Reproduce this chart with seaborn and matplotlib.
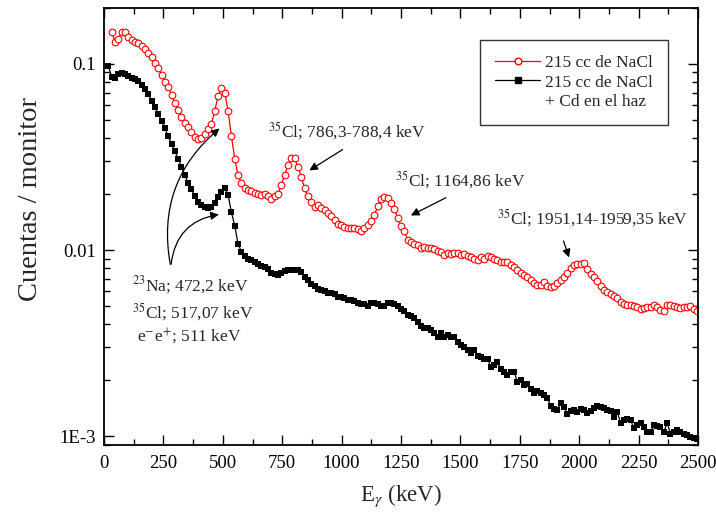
import matplotlib.pyplot as plt
import numpy as np
import seaborn as sns
from matplotlib.lines import Line2D
from matplotlib.ticker import FixedLocator, LogLocator, MultipleLocator, NullFormatter

# Spectrum values (counts / monitor), channels every 14 keV
red_counts = [
    0.149, 0.132, 0.136, 0.149, 0.149, 0.140, 0.135, 0.132, 0.129, 0.125,
    0.120, 0.115, 0.109, 0.1016, 0.0948, 0.0873, 0.0803, 0.0755, 0.0681, 0.0619,
    0.0566, 0.0521, 0.0483, 0.0457, 0.0429, 0.0406, 0.0395, 0.0398, 0.0420, 0.0446,
    0.0476, 0.0560, 0.0673, 0.0746, 0.0700, 0.0560, 0.0410, 0.0310, 0.0253, 0.0229,
    0.0215, 0.0210, 0.0208, 0.0202, 0.0200, 0.0198, 0.0200, 0.0194, 0.0187, 0.0195,
    0.0200, 0.0224, 0.0253, 0.0286, 0.0311, 0.0313, 0.0280, 0.0248, 0.0215, 0.0194,
    0.0182, 0.0171, 0.0174, 0.0168, 0.0164, 0.0159, 0.0152, 0.0145, 0.0138, 0.0136,
    0.0133, 0.0132, 0.0131, 0.0131, 0.0129, 0.0127, 0.0131, 0.0136, 0.0144, 0.0154,
    0.0172, 0.0187, 0.0192, 0.0190, 0.0180, 0.0166, 0.0148, 0.0135, 0.0126, 0.0113,
    0.0111, 0.0108, 0.0106, 0.0102, 0.0104, 0.0102, 0.0102, 0.0101, 0.0099, 0.0098,
    0.0094, 0.0096, 0.0095, 0.0096, 0.0096, 0.0094, 0.0095, 0.0093, 0.0092, 0.0089,
    0.0088, 0.0092, 0.0090, 0.0093, 0.0092, 0.0090, 0.00883, 0.00866, 0.0086, 0.00866,
    0.0083, 0.00813, 0.0078, 0.00755, 0.00734, 0.00713, 0.0069, 0.00668, 0.00649, 0.00645,
    0.00676, 0.00644, 0.00636, 0.0064, 0.00662, 0.0069, 0.00718, 0.00755, 0.00798, 0.0083,
    0.00841, 0.0084, 0.00848, 0.00787, 0.00743, 0.00713, 0.00684, 0.00644, 0.0061, 0.00597,
    0.0058, 0.00566, 0.0055, 0.00527, 0.00513, 0.00506, 0.00506, 0.0050, 0.00492, 0.0048,
    0.00485, 0.00495, 0.00492, 0.00506, 0.00492, 0.00475, 0.0047, 0.00506, 0.00506, 0.0050,
    0.00492, 0.00485, 0.00492, 0.00495, 0.0050, 0.0048, 0.0047,
]

cd_counts = [
    0.0976, 0.0855, 0.0845, 0.0880, 0.0895, 0.0888, 0.0862, 0.0845, 0.0826, 0.0810,
    0.0775, 0.0735, 0.0690, 0.0635, 0.0585, 0.0540, 0.0495, 0.0450, 0.0410, 0.0372,
    0.0340, 0.0310, 0.0280, 0.0252, 0.0230, 0.0212, 0.0195, 0.0182, 0.0174, 0.0170,
    0.0168, 0.0170, 0.0178, 0.0193, 0.0205, 0.0215, 0.0198, 0.0160, 0.0135, 0.0108,
    0.0098, 0.0093, 0.0089, 0.0088, 0.0086, 0.0084, 0.0082, 0.0081, 0.0079, 0.0075,
    0.0074, 0.0073, 0.0075, 0.0077, 0.0078, 0.0078, 0.0078, 0.0078, 0.0076, 0.0072,
    0.0069, 0.0066, 0.0064, 0.0062, 0.0061, 0.0060, 0.0059, 0.0059, 0.0058, 0.0056,
    0.0056, 0.0055, 0.0054, 0.0054, 0.0053, 0.0052, 0.0051, 0.0051, 0.0050, 0.0052,
    0.0052, 0.0051, 0.0050, 0.0050, 0.0052, 0.0052, 0.0051, 0.0050, 0.0048, 0.0047,
    0.0045, 0.0044, 0.0043, 0.0041, 0.0039, 0.0038, 0.0038, 0.0037, 0.0036, 0.0034,
    0.0036, 0.0034, 0.0035, 0.0034, 0.0034, 0.0032, 0.0031, 0.0030, 0.0029, 0.0028,
    0.0029, 0.0027, 0.00265, 0.0026, 0.0026, 0.00236, 0.0024, 0.0025, 0.0023, 0.0022,
    0.00213, 0.0022, 0.0022, 0.00196, 0.0020, 0.00188, 0.0019, 0.0018, 0.00171, 0.00175,
    0.0017, 0.00166, 0.00161, 0.00145, 0.0014, 0.00138, 0.0015, 0.00144, 0.00132, 0.00137,
    0.00138, 0.00135, 0.00139, 0.00138, 0.00133, 0.00137, 0.00141, 0.00145, 0.00143, 0.00141,
    0.00138, 0.00137, 0.00127, 0.00135, 0.00118, 0.00122, 0.00123, 0.00122, 0.0011, 0.00115,
    0.00117, 0.00112, 0.00105, 0.00105, 0.00115, 0.00113, 0.00112, 0.00105, 0.00118, 0.00103,
    0.00105, 0.00108, 0.00105, 0.00103, 0.00101, 0.00099, 0.00098, 0.00096,
]

red_energy = np.arange(len(red_counts)) * 14 + 32
cd_energy = np.arange(len(cd_counts)) * 14 + 18

x_ticks = [0, 250, 500, 750, 1000, 1250, 1500, 1750, 2000, 2250, 2500]
y_ticks = [1e-3, 1e-2, 1e-1]
y_ticklabels = ["1E-3", "0.01", "0.1"]

legend_labels = ["215 cc de NaCl", "215 cc de NaCl", "+ Cd en el haz"]

# --- style ---
sns.set_style("ticks")
plt.rcParams["font.family"] = ["Liberation Serif", "DejaVu Serif"]
plt.rcParams["mathtext.fontset"] = "stix"

fig = plt.figure(figsize=(7.16, 5.18), dpi=100)
ax = fig.add_axes([0.1453, 0.1409, 0.8296, 0.8437])

sns.lineplot(
    x=red_energy, y=red_counts, ax=ax, color="red", lw=0.9,
    marker="o", ms=4.8, mfc="white", mec="red", mew=0.8,
    estimator=None, sort=False,
)
sns.lineplot(
    x=cd_energy, y=cd_counts, ax=ax, color="black", lw=0.9,
    marker="s", ms=4.8, mfc="black", mec="black", mew=0,
    estimator=None, sort=False,
)

ax.set_yscale("log")
ax.set_xlim(0, 2500)
ax.set_ylim(0.000895, 0.2)

ax.xaxis.set_major_locator(FixedLocator(x_ticks))
ax.xaxis.set_minor_locator(MultipleLocator(125))
ax.set_yticks(y_ticks)
ax.set_yticklabels(y_ticklabels)
ax.yaxis.set_minor_locator(LogLocator(base=10, subs=np.arange(2, 10)))
ax.yaxis.set_minor_formatter(NullFormatter())

ax.tick_params(which="both", direction="in", top=True, right=True,
               colors="black", labelsize=13.5)
ax.tick_params(which="major", length=7, width=1)
ax.tick_params(which="minor", length=4, width=1)
ax.tick_params(axis="x", which="major", pad=7)
ax.tick_params(axis="y", which="major", pad=6)
for s in ax.spines.values():
    s.set_linewidth(1.3)
    s.set_color("black")

ax.set_xlabel(r"E$_{\gamma}$ (keV)", fontsize=16.5)
ax.xaxis.set_label_coords(0.5, -0.085)
ax.set_ylabel("Cuentas / monitor", fontsize=20.5)
ax.yaxis.set_label_coords(-0.103, 0.563)

# --- annotations ---
arrow = dict(arrowstyle="-|>", color="black", lw=0.9, mutation_scale=12)
ax.annotate("", xy=(854, 0.0263), xytext=(1014, 0.0353), arrowprops=arrow)
ax.text(690, 0.0436, r"$^{35}$Cl; 786,3-788,4 keV", fontsize=12.5, va="center")

ax.annotate("", xy=(1281, 0.0151), xytext=(1449, 0.0194), arrowprops=arrow)
ax.text(1225, 0.0238, r"$^{35}$Cl; 1164,86 keV", fontsize=12.5, va="center")

ax.annotate("", xy=(1961, 0.00883), xytext=(1930, 0.01156), arrowprops=arrow)
ax.text(1652, 0.01486, r"$^{35}$Cl; 1951,14-1959,35 keV", fontsize=12.5, va="center")

ax.annotate("", xy=(495, 0.046), xytext=(281, 0.0081),
            arrowprops=dict(arrow, connectionstyle="arc3,rad=-0.3"))
ax.annotate("", xy=(495, 0.0156), xytext=(281, 0.0081),
            arrowprops=dict(arrow, connectionstyle="arc3,rad=-0.4"))
ax.text(118, 0.00648, r"$^{23}$Na; 472,2 keV", fontsize=12.5, va="center")
ax.text(118, 0.00465, r"$^{35}$Cl; 517,07 keV", fontsize=12.5, va="center")
ax.text(139, 0.0034, r"e$^{-}$e$^{+}$; 511 keV", fontsize=12.5, va="center")

# --- legend ---
handles = [
    Line2D([], [], color="red", lw=0.9, marker="o", ms=4.8, mfc="white", mec="red"),
    Line2D([], [], color="black", lw=0.9, marker="s", ms=4.8, mfc="black"),
    Line2D([], [], color="none"),
]
leg = ax.legend(
    handles, legend_labels, loc="upper right", bbox_to_anchor=(0.9495, 0.9268),
    borderaxespad=0, fontsize=12.5, frameon=True, fancybox=False,
    edgecolor="black", handlelength=2.6, handletextpad=0.3,
    labelspacing=0.2, borderpad=0.85,
)
leg.get_frame().set_linewidth(1.0)

plt.savefig("out.png", dpi=100)
